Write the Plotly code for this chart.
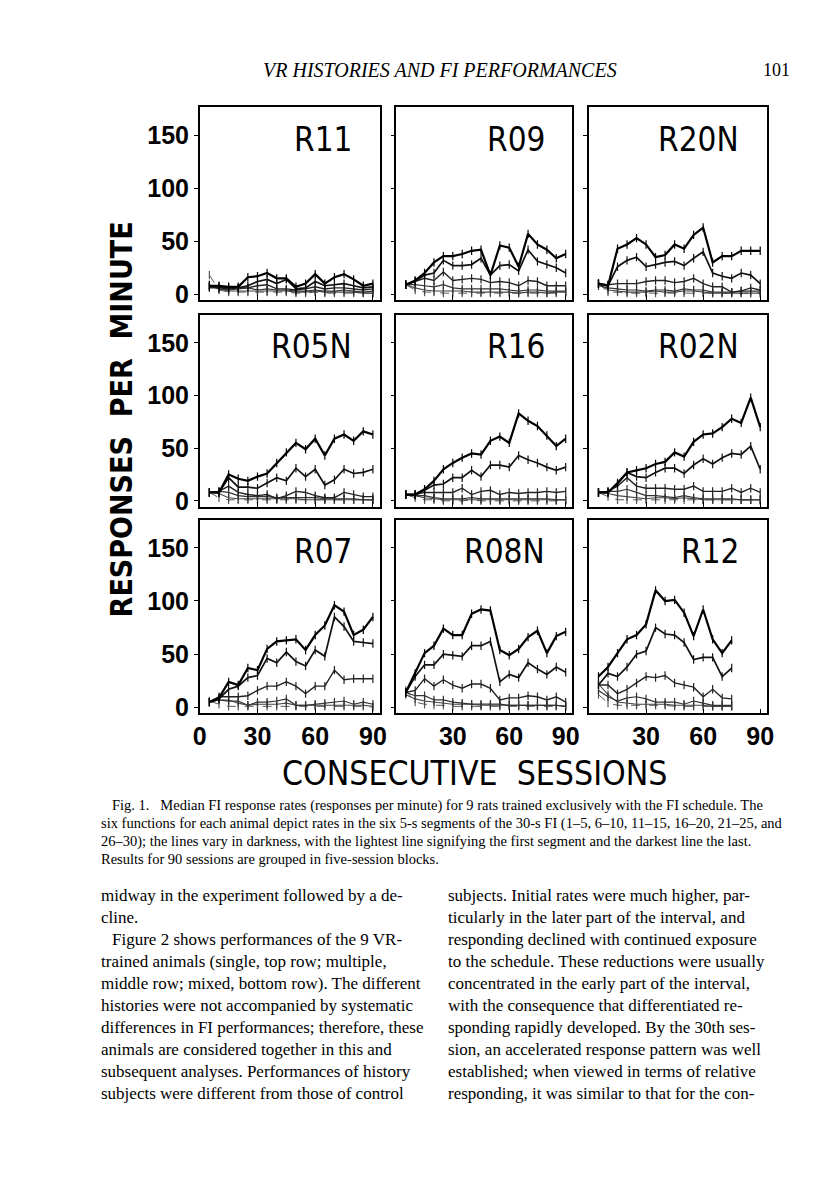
import plotly.graph_objects as go

# ---------------- data ----------------
sessions = [5, 10, 15, 20, 25, 30, 35, 40, 45, 50, 55, 60, 65, 70, 75, 80, 85, 90]
segments = ["1-5 s", "6-10 s", "11-15 s", "16-20 s", "21-25 s", "26-30 s"]
animals = ["R11", "R09", "R20N", "R05N", "R16", "R02N", "R07", "R08N", "R12"]

# each list: segment 1 (lightest) ... segment 6 (darkest); responses per minute
R11 = [
    [18, 4, 2, 2, 2, 2, 2, 2, 2, 1, 1, 2, 1, 1, 1, 1, 1, 1],
    [9, 5, 3, 3, 3, 3, 3, 3, 3, 2, 2, 3, 2, 2, 2, 2, 1, 1],
    [8, 5, 4, 5, 6, 4, 5, 4, 4, 3, 3, 4, 3, 3, 4, 3, 2, 3],
    [6, 6, 5, 6, 6, 8, 9, 5, 5, 4, 5, 7, 5, 6, 6, 5, 4, 5],
    [7, 7, 6, 6, 8, 12, 14, 10, 14, 5, 6, 12, 8, 9, 10, 8, 6, 7],
    [8, 8, 7, 7, 16, 17, 20, 15, 15, 7, 10, 19, 10, 16, 19, 14, 8, 10],
]
R09 = [
    [9, 4, 2, 2, 1, 1, 1, 1, 1, 1, 1, 1, 1, 1, 1, 1, 1, 1],
    [9, 6, 4, 3, 3, 3, 3, 2, 2, 2, 2, 2, 1, 2, 2, 1, 2, 2],
    [9, 9, 8, 7, 9, 6, 5, 5, 5, 5, 5, 4, 3, 4, 4, 3, 3, 3],
    [9, 12, 15, 13, 21, 13, 14, 15, 14, 11, 12, 11, 8, 13, 12, 8, 8, 8],
    [9, 12, 18, 20, 32, 27, 27, 28, 34, 18, 27, 28, 22, 42, 31, 28, 25, 20],
    [9, 13, 20, 30, 36, 36, 38, 41, 42, 18, 46, 44, 26, 57, 47, 42, 34, 38],
]
R20N = [
    [10, 2, 2, 1, 1, 1, 1, 1, 1, 1, 1, 1, 1, 1, 1, 1, 1, 1],
    [10, 4, 3, 2, 2, 2, 3, 2, 2, 3, 3, 2, 1, 1, 1, 1, 1, 1],
    [8, 6, 5, 4, 4, 3, 4, 4, 3, 5, 4, 4, 2, 2, 2, 3, 3, 3],
    [10, 9, 10, 10, 10, 12, 13, 13, 11, 12, 15, 10, 7, 7, 2, 3, 6, 4],
    [10, 8, 26, 32, 35, 26, 28, 30, 31, 27, 34, 40, 20, 17, 15, 20, 18, 10],
    [10, 8, 43, 47, 53, 47, 35, 37, 47, 43, 56, 63, 30, 36, 36, 41, 41, 41],
]
R05N = [
    [8, 3, 1, 1, 1, 1, 1, 1, 1, 1, 1, 1, 1, 1, 1, 1, 1, 1],
    [8, 7, 3, 2, 2, 2, 2, 2, 2, 2, 1, 1, 1, 1, 1, 1, 1, 1],
    [8, 9, 8, 5, 4, 4, 4, 3, 3, 3, 3, 3, 2, 2, 2, 2, 1, 1],
    [8, 9, 14, 8, 6, 5, 6, 2, 5, 9, 8, 5, 3, 3, 8, 6, 4, 4],
    [8, 8, 22, 13, 13, 12, 17, 22, 19, 31, 23, 30, 15, 20, 30, 26, 27, 30],
    [8, 8, 25, 21, 19, 23, 26, 36, 46, 55, 49, 59, 43, 59, 63, 57, 66, 63],
]
R16 = [
    [6, 3, 1, 1, 0, 0, 0, 1, 0, 0, 0, 0, 0, 0, 0, 0, 0, 0],
    [6, 5, 3, 2, 1, 1, 1, 1, 1, 1, 1, 1, 1, 1, 1, 1, 1, 1],
    [6, 5, 5, 3, 2, 2, 2, 3, 2, 2, 2, 2, 2, 2, 2, 2, 1, 1],
    [6, 6, 8, 8, 8, 8, 12, 6, 9, 10, 6, 8, 7, 8, 8, 9, 8, 9],
    [6, 6, 10, 15, 16, 22, 22, 29, 23, 34, 34, 32, 43, 39, 36, 32, 29, 32],
    [6, 6, 11, 19, 30, 36, 41, 45, 44, 57, 61, 55, 83, 76, 71, 62, 52, 59],
]
R02N = [
    [8, 4, 1, 1, 1, 1, 1, 1, 1, 1, 1, 1, 1, 1, 1, 1, 1, 0],
    [8, 7, 5, 4, 3, 2, 3, 3, 2, 3, 2, 1, 1, 1, 1, 1, 1, 1],
    [8, 9, 9, 11, 8, 5, 5, 4, 3, 5, 3, 2, 2, 2, 2, 1, 1, 1],
    [8, 9, 14, 22, 14, 12, 12, 12, 11, 11, 14, 9, 9, 9, 12, 8, 12, 8],
    [8, 8, 16, 27, 23, 22, 27, 31, 31, 26, 34, 40, 35, 41, 45, 44, 52, 30],
    [8, 8, 17, 27, 29, 31, 35, 37, 46, 42, 56, 63, 64, 70, 78, 74, 98, 70],
]
R07 = [
    [6, 3, 1, 1, 1, 1, 1, 1, 1, 1, 1, 1, 1, 1, 1, 1, 1, 0],
    [5, 7, 7, 4, 2, 3, 3, 3, 4, 2, 2, 2, 2, 2, 2, 2, 2, 1],
    [5, 7, 6, 6, 2, 5, 5, 6, 8, 2, 2, 3, 4, 5, 6, 3, 5, 3],
    [5, 10, 10, 10, 11, 16, 20, 20, 24, 20, 13, 20, 20, 35, 26, 27, 27, 27],
    [5, 8, 17, 20, 28, 30, 46, 42, 52, 43, 39, 54, 48, 85, 76, 62, 61, 60],
    [5, 9, 24, 21, 37, 35, 55, 62, 63, 64, 54, 68, 77, 96, 90, 68, 73, 85],
]
R08N = [
    [16, 5, 3, 2, 2, 1, 1, 1, 1, 1, 1, 1, 1, 1, 1, 1, 1, 1],
    [12, 8, 6, 5, 4, 3, 3, 3, 2, 2, 2, 2, 2, 2, 2, 2, 2, 1],
    [14, 11, 11, 7, 7, 5, 4, 3, 3, 3, 3, 2, 2, 2, 2, 2, 2, 1],
    [14, 16, 27, 20, 26, 21, 18, 22, 22, 18, 7, 9, 9, 11, 10, 7, 10, 5],
    [14, 29, 40, 40, 50, 49, 48, 58, 58, 62, 24, 31, 28, 42, 36, 31, 38, 33],
    [14, 32, 51, 58, 74, 68, 68, 88, 92, 91, 54, 49, 55, 66, 72, 51, 67, 71],
]
R12 = [
    [12, 4, 2, 2, 2, 2, 2, 2, 1, 1, 1, 1, 1, 1, 1],
    [22, 12, 5, 4, 3, 3, 3, 3, 2, 2, 2, 2, 1, 1, 1],
    [16, 10, 6, 9, 10, 8, 5, 5, 5, 3, 6, 4, 2, 2, 2],
    [21, 21, 13, 17, 23, 29, 28, 30, 23, 21, 19, 10, 17, 9, 8],
    [21, 32, 29, 38, 50, 53, 75, 69, 68, 61, 45, 47, 47, 29, 37],
    [29, 38, 51, 64, 68, 78, 110, 100, 101, 89, 67, 92, 64, 51, 63],
]
rates = [R11, R09, R20N, R05N, R16, R02N, R07, R08N, R12]

y_ticks = [0, 50, 100, 150]
x_ticks_first = [0, 30, 60, 90]
x_ticks_other = [30, 60, 90]

# ---------------- styling ----------------
W, H = 816, 1200
col_px = [(188, 371), (388, 567), (584, 765)]
row_px = [(100, 294), (309, 502), (515, 710)]
seg_colors = ["#5a5a5a", "#454545", "#333333", "#222222", "#111111", "#000000"]
seg_widths = [1.0, 1.1, 1.2, 1.4, 1.7, 2.2]
seg_dash = ["dash", "solid", "solid", "solid", "solid", "solid"]
SANS = "Liberation Sans, Arial, sans-serif"
NARROW = "Liberation Sans Narrow, DejaVu Sans Condensed, Arial Narrow, sans-serif"
SERIF = "Liberation Serif, Times New Roman, serif"


def px_x(p):
    return p / W


def px_y(p):
    return 1 - p / H


fig = go.Figure()
layout = dict(
    width=W, height=H, margin=dict(l=0, r=0, t=0, b=0),
    paper_bgcolor="white", plot_bgcolor="white", showlegend=False,
)
annotations = []

for i, name in enumerate(animals):
    r, c = divmod(i, 3)
    k = "" if i == 0 else str(i + 1)
    data = rates[i]
    for s in range(6):
        n = len(data[s])
        fig.add_trace(go.Scatter(
            x=sessions[:n], y=data[s], mode="lines+markers",
            name=f"{name} {segments[s]}",
            xaxis="x" + k, yaxis="y" + k,
            line=dict(color=seg_colors[s], width=seg_widths[s], dash=seg_dash[s]),
            marker=dict(symbol="line-ns-open", size=6,
                        line=dict(color=seg_colors[s], width=1.2)),
        ))
    x0, x1 = col_px[c]
    y0, y1 = row_px[r]
    bottom = r == 2
    left = c == 0
    layout["xaxis" + k] = dict(
        domain=[px_x(x0), px_x(x1)], anchor="y" + k, range=[0, 93.5],
        tickvals=x_ticks_first if c == 0 else x_ticks_other,
        showticklabels=bottom, ticks="inside", ticklen=5, tickwidth=1.2,
        tickcolor="black", showline=True, linecolor="black", linewidth=1.5,
        mirror=True, showgrid=False, zeroline=False,
        tickfont=dict(family=SANS, size=25, color="black", weight="bold"),
    )
    layout["yaxis" + k] = dict(
        domain=[px_y(y1), px_y(y0)], anchor="x" + k, range=[-5.5, 176.5],
        tickvals=y_ticks, showticklabels=left, ticks="outside", ticklen=4,
        tickwidth=1.2, tickcolor="black", showline=True, linecolor="black",
        linewidth=1.5, mirror=True, showgrid=False, zeroline=False,
        tickfont=dict(family=SANS, size=25, color="black", weight="bold"),
    )
    annotations.append(dict(
        text=name, xref="x" + k + " domain", yref="y" + k + " domain",
        x=1 - 26 / (x1 - x0), y=1 - 32 / (y1 - y0), xanchor="right",
        yanchor="middle", showarrow=False,
        font=dict(family=NARROW, size=33, color="black"),
    ))

# axis titles
annotations.append(dict(
    text="RESPONSES\u00a0\u00a0PER\u00a0\u00a0MINUTE", xref="paper", yref="paper",
    x=px_x(108), y=px_y(414), textangle=-90, showarrow=False,
    xanchor="center", yanchor="middle",
    font=dict(family=NARROW, size=30, color="black", weight="bold"),
))
annotations.append(dict(
    text="CONSECUTIVE\u00a0\u00a0SESSIONS", xref="paper", yref="paper",
    x=px_x(468), y=px_y(771), showarrow=False, xanchor="center", yanchor="middle",
    font=dict(family=NARROW, size=33.5, color="black"),
))

# page header
annotations.append(dict(
    text="<i>VR HISTORIES AND FI PERFORMANCES</i>", xref="paper", yref="paper",
    x=px_x(432), y=px_y(62), showarrow=False, xanchor="center", yanchor="middle",
    font=dict(family=SERIF, size=20, color="black"),
))
annotations.append(dict(
    text="101", xref="paper", yref="paper", x=px_x(775), y=px_y(62),
    showarrow=False, xanchor="center", yanchor="middle",
    font=dict(family=SERIF, size=18, color="black"),
))

# caption
caption = [
    (97, "Fig. 1.\u00a0\u00a0 Median FI response rates (responses per minute) for 9 rats trained exclusively with the FI schedule. The"),
    (85, "six functions for each animal depict rates in the six 5-s segments of the 30-s FI (1\u20135, 6\u201310, 11\u201315, 16\u201320, 21\u201325, and"),
    (85, "26\u201330); the lines vary in darkness, with the lightest line signifying the first segment and the darkest line the last."),
    (85, "Results for 90 sessions are grouped in five-session blocks."),
]
for j, (xp, line) in enumerate(caption):
    annotations.append(dict(
        text=line, xref="paper", yref="paper", x=px_x(xp), y=px_y(803 + 18 * j),
        showarrow=False, xanchor="left", yanchor="middle",
        font=dict(family=SERIF, size=14.5, color="black"),
    ))

# body text
left_col = [
    (85, "midway in the experiment followed by a de-"),
    (85, "cline."),
    (97, "Figure 2 shows performances of the 9 VR-"),
    (85, "trained animals (single, top row; multiple,"),
    (85, "middle row; mixed, bottom row). The different"),
    (85, "histories were not accompanied by systematic"),
    (85, "differences in FI performances; therefore, these"),
    (85, "animals are considered together in this and"),
    (85, "subsequent analyses. Performances of history"),
    (85, "subjects were different from those of control"),
]
right_col = [
    "subjects. Initial rates were much higher, par-",
    "ticularly in the later part of the interval, and",
    "responding declined with continued exposure",
    "to the schedule. These reductions were usually",
    "concentrated in the early part of the interval,",
    "with the consequence that differentiated re-",
    "sponding rapidly developed. By the 30th ses-",
    "sion, an accelerated response pattern was well",
    "established; when viewed in terms of relative",
    "responding, it was similar to that for the con-",
]
for j, (xp, line) in enumerate(left_col):
    annotations.append(dict(
        text=line, xref="paper", yref="paper", x=px_x(xp), y=px_y(893 + 22.2 * j),
        showarrow=False, xanchor="left", yanchor="middle",
        font=dict(family=SERIF, size=17, color="black"),
    ))
for j, line in enumerate(right_col):
    annotations.append(dict(
        text=line, xref="paper", yref="paper", x=px_x(439), y=px_y(893 + 22.2 * j),
        showarrow=False, xanchor="left", yanchor="middle",
        font=dict(family=SERIF, size=17, color="black"),
    ))

layout["annotations"] = annotations
fig.update_layout(**layout)
fig.write_html("out.html")
